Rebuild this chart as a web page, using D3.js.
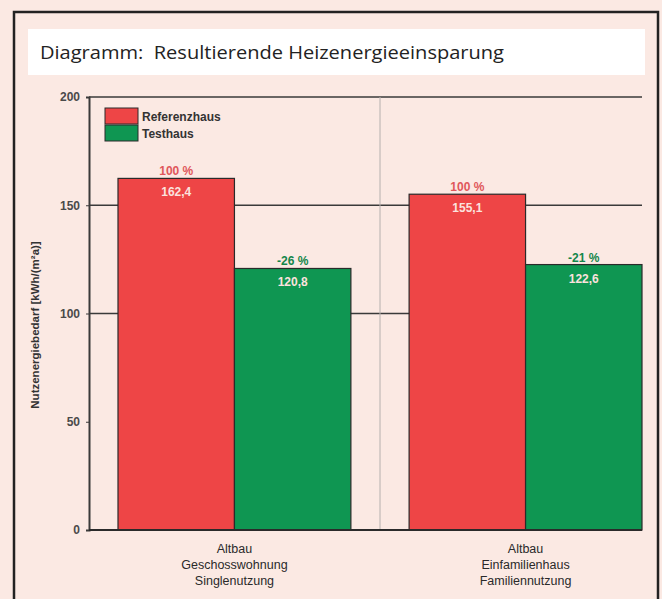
<!DOCTYPE html>
<html>
<head>
<meta charset="utf-8">
<script src="https://cdn.jsdelivr.net/npm/d3@7"></script>
<style>
  html, body { margin: 0; padding: 0; background: #fbe9e3; }
  svg { display: block; }
</style>
</head>
<body>
<div id="chart"></div>
<script>
// Heizenergieeinsparung – Referenzhaus vs. Testhaus
const width = 662;
const height = 599;

// data
const groups = ["g1", "g2"];
const groupLabels = [
  ["Altbau", "Geschosswohnung", "Singlenutzung"],
  ["Altbau", "Einfamilienhaus", "Familiennutzung"]
];
const seriesNames = ["Referenzhaus", "Testhaus"];
const referenzValues = [162.4, 155.1];
const testValues = [120.8, 122.6];
const valueLabels = [["162,4", "120,8"], ["155,1", "122,6"]];
const percentLabels = [["100 %", "-26 %"], ["100 %", "-21 %"]];
const yTicks = [0, 50, 100, 150, 200];
const gridTicks = [100, 150, 200];

const colors = ["#ee4546", "#0f9652"];
const pctColors = ["#e0575a", "#13864a"];
const chartFont = "'Liberation Sans', Arial, sans-serif";

const svg = d3.select("#chart")
  .append("svg")
  .attr("width", width)
  .attr("height", height);

// background + frame
svg.append("rect")
  .attr("x", 0).attr("y", 0)
  .attr("width", width).attr("height", height)
  .attr("fill", "#fbe9e3");

svg.append("rect")
  .attr("x", 14).attr("y", 12)
  .attr("width", 644).attr("height", 620)
  .attr("fill", "none")
  .attr("stroke", "#222")
  .attr("stroke-width", 2.5);

// title band
svg.append("rect")
  .attr("x", 28).attr("y", 29)
  .attr("width", 617).attr("height", 46)
  .attr("fill", "#ffffff");

svg.append("text")
  .attr("x", 40).attr("y", 59)
  .attr("font-family", "'Open Sans', sans-serif")
  .attr("font-size", "19px")
  .attr("fill", "#222")
  .attr("textLength", 464)
  .attr("lengthAdjust", "spacingAndGlyphs")
  .attr("xml:space", "preserve")
  .text("Diagramm:  Resultierende Heizenergieeinsparung");

// scales
const plotLeft = 89, plotRight = 642;
const y = d3.scaleLinear().domain([0, 200]).range([530, 97]);

const x0 = d3.scaleBand()
  .domain(groups)
  .range([118, 642])
  .paddingInner(0.2)
  .paddingOuter(0);

const x1 = d3.scaleBand()
  .domain(seriesNames)
  .range([0, x0.bandwidth()]);

// grid lines
svg.append("g")
  .selectAll("line")
  .data(gridTicks)
  .join("line")
  .attr("x1", plotLeft).attr("x2", plotRight)
  .attr("y1", d => y(d)).attr("y2", d => y(d))
  .attr("stroke", "#3a3a3a")
  .attr("stroke-width", 1.6);

// divider between groups
const divX = (x0("g1") + x0.bandwidth() + x0("g2")) / 2;
svg.append("line")
  .attr("x1", divX).attr("x2", divX)
  .attr("y1", y(200)).attr("y2", y(0))
  .attr("stroke", "#b5b0ae")
  .attr("stroke-width", 1);

// y axis
const yAxis = svg.append("g")
  .attr("transform", `translate(${plotLeft},0)`)
  .call(d3.axisLeft(y).tickValues(yTicks).tickSize(3).tickPadding(6));
yAxis.select(".domain").attr("stroke", "#3a3a3a").attr("stroke-width", 2);
yAxis.selectAll(".tick line").attr("stroke", "#3a3a3a");
yAxis.selectAll("text")
  .attr("font-family", chartFont)
  .attr("font-size", "12px")
  .attr("font-weight", "bold")
  .attr("fill", "#4a4a4a");

svg.append("text")
  .attr("transform", `translate(39, 325) rotate(-90)`)
  .attr("text-anchor", "middle")
  .attr("font-family", chartFont)
  .attr("font-size", "11.5px")
  .attr("font-weight", "bold")
  .attr("fill", "#333")
  .text("Nutzenergiebedarf [kWh/(m²a)]");

// bars
const barData = [];
groups.forEach((g, i) => {
  [referenzValues[i], testValues[i]].forEach((v, j) => {
    barData.push({
      group: g, series: seriesNames[j], value: v, si: j,
      valueLabel: valueLabels[i][j], pctLabel: percentLabels[i][j]
    });
  });
});

const barG = svg.append("g");
barG.selectAll("rect")
  .data(barData)
  .join("rect")
  .attr("x", d => x0(d.group) + x1(d.series))
  .attr("y", d => y(d.value))
  .attr("width", x1.bandwidth())
  .attr("height", d => y(0) - y(d.value))
  .attr("fill", d => colors[d.si])
  .attr("stroke", "#2a2a2a")
  .attr("stroke-width", 1.2);

// baseline
svg.append("line")
  .attr("x1", plotLeft).attr("x2", plotRight)
  .attr("y1", y(0)).attr("y2", y(0))
  .attr("stroke", "#2a2a2a")
  .attr("stroke-width", 2);

// percent labels above bars
barG.selectAll("text.pct")
  .data(barData)
  .join("text")
  .attr("class", "pct")
  .attr("x", d => x0(d.group) + x1(d.series) + x1.bandwidth() / 2)
  .attr("y", d => y(d.value) - 3)
  .attr("text-anchor", "middle")
  .attr("font-family", chartFont)
  .attr("font-size", "12px")
  .attr("font-weight", "bold")
  .attr("fill", d => pctColors[d.si])
  .text(d => d.pctLabel);

// value labels inside bars
barG.selectAll("text.val")
  .data(barData)
  .join("text")
  .attr("class", "val")
  .attr("x", d => x0(d.group) + x1(d.series) + x1.bandwidth() / 2)
  .attr("y", d => y(d.value) + 18)
  .attr("text-anchor", "middle")
  .attr("font-family", chartFont)
  .attr("font-size", "12px")
  .attr("font-weight", "bold")
  .attr("fill", "#fbe2de")
  .text(d => d.valueLabel);

// category labels
const catG = svg.append("g");
groups.forEach((g, i) => {
  const cx = x0(g) + x0.bandwidth() / 2;
  const t = catG.append("text")
    .attr("x", cx)
    .attr("y", 553)
    .attr("text-anchor", "middle")
    .attr("font-family", chartFont)
    .attr("font-size", "12.5px")
    .attr("fill", "#2a2a2a");
  groupLabels[i].forEach((line, k) => {
    t.append("tspan")
      .attr("x", cx)
      .attr("dy", k === 0 ? 0 : 16)
      .text(line);
  });
});

// legend
const legend = svg.append("g").attr("transform", "translate(105,108)");
seriesNames.forEach((name, i) => {
  legend.append("rect")
    .attr("x", 0).attr("y", i * 17)
    .attr("width", 33).attr("height", 16)
    .attr("fill", colors[i])
    .attr("stroke", "#2a2a2a")
    .attr("stroke-width", 1);
  legend.append("text")
    .attr("x", 37).attr("y", i * 17 + 12.5)
    .attr("font-family", chartFont)
    .attr("font-size", "12px")
    .attr("font-weight", "bold")
    .attr("fill", "#333")
    .text(name);
});
</script>
</body>
</html>
